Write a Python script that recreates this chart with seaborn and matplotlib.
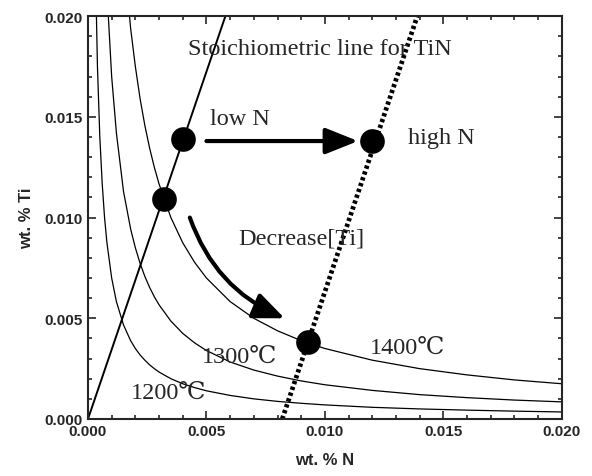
import numpy as np
import pandas as pd
import seaborn as sns
import matplotlib.pyplot as plt

# solubility curves, values (wt.% N vs wt.% Ti)
n_curve = [0.0003, 0.0004, 0.0005, 0.0006, 0.0007, 0.0008, 0.001, 0.0012,
           0.0015, 0.0018, 0.002, 0.0022, 0.0024, 0.0026, 0.0028, 0.003,
           0.0035, 0.004, 0.0045, 0.005, 0.006, 0.007, 0.008, 0.009, 0.010,
           0.012, 0.014, 0.016, 0.018, 0.020]
ti_1200 = [0.0233, 0.0175, 0.014, 0.0117, 0.0100, 0.00875, 0.007, 0.00583,
           0.00467, 0.00389, 0.0035, 0.00318, 0.00292, 0.00269, 0.0025, 0.00233,
           0.002, 0.00175, 0.00156, 0.0014, 0.00117, 0.001, 0.000875, 0.00078, 0.0007,
           0.00058, 0.0005, 0.00044, 0.00039, 0.00035]
ti_1300 = [np.nan, np.nan, np.nan, 0.0283, 0.0243, 0.02125, 0.017, 0.0142,
           0.0113, 0.00944, 0.0085, 0.00773, 0.00708, 0.00654, 0.00607, 0.00567,
           0.00486, 0.00425, 0.00378, 0.0034, 0.00283, 0.00243, 0.00213, 0.00189, 0.0017,
           0.00142, 0.00121, 0.00106, 0.00094, 0.00085]
ti_1400 = [np.nan, np.nan, np.nan, np.nan, np.nan, np.nan, np.nan, np.nan,
           0.0233, 0.0194, 0.0175, 0.0159, 0.01458, 0.01346, 0.0125, 0.01167,
           0.01, 0.00875, 0.00778, 0.007, 0.00583, 0.005, 0.00438, 0.00389, 0.0035,
           0.00292, 0.0025, 0.00219, 0.00194, 0.00175]

# stoichiometric line for TiN and the shifted (dotted) line
n_stoich = [0.0, 0.0058]
ti_stoich = [0.0, 0.020]
n_shift = [0.0082, 0.0139]
ti_shift = [0.0, 0.020]

# marked points
pt_n = [0.0040, 0.0032, 0.0120, 0.0093]
pt_ti = [0.0139, 0.0109, 0.0138, 0.0038]

df = pd.concat([
    pd.DataFrame({'N': n_curve, 'Ti': ti_1200, 'T': '1200'}),
    pd.DataFrame({'N': n_curve, 'Ti': ti_1300, 'T': '1300'}),
    pd.DataFrame({'N': n_curve, 'Ti': ti_1400, 'T': '1400'}),
]).dropna()

sns.set_style('ticks')
plt.rcParams['font.family'] = ['Liberation Sans', 'DejaVu Sans']

fig, ax = plt.subplots(figsize=(5.92, 4.77), dpi=100)
fig.subplots_adjust(left=0.1486, right=0.949, top=0.964, bottom=0.1195)

sns.lineplot(data=df, x='N', y='Ti', units='T', estimator=None,
             color='black', lw=0.9, ax=ax, legend=False)
sns.lineplot(x=n_stoich, y=ti_stoich, color='black', lw=1.4, ax=ax)
sns.lineplot(x=n_shift, y=ti_shift, color='black', lw=3.4,
             linestyle=(0, (0.7, 0.6)), ax=ax)
sns.scatterplot(x=pt_n, y=pt_ti, color='black', s=270, zorder=5, ax=ax,
                edgecolor='black')

# arrows
ax.annotate('', xy=(0.0114, 0.0138), xytext=(0.0050, 0.0138),
            arrowprops=dict(arrowstyle='-|>,head_length=2.0,head_width=0.8',
                            lw=3, color='black', shrinkA=0, shrinkB=0))
ax.annotate('', xy=(0.0083, 0.0050), xytext=(0.0043, 0.0100),
            arrowprops=dict(arrowstyle='-|>,head_length=1.9,head_width=0.8',
                            lw=3, color='black', shrinkA=0, shrinkB=0,
                            connectionstyle='arc3,rad=0.22'))

serif = ['Liberation Serif', 'DejaVu Serif']
fs = 17.5
ax.text(0.0098, 0.0184, 'Stoichiometric line for TiN', family=serif,
        fontsize=fs, ha='center', va='center')
ax.text(0.0064, 0.0149, 'low N', family=serif, fontsize=fs, ha='center', va='center')
ax.text(0.0149, 0.0140, 'high N', family=serif, fontsize=fs, ha='center', va='center')
ax.text(0.0090, 0.0090, 'Decrease[Ti]', family=serif, fontsize=fs, ha='center', va='center')
ax.text(0.0034, 0.00134, '1200℃', family=serif, fontsize=fs, ha='center', va='center')
ax.text(0.0064, 0.00313, '1300℃', family=serif, fontsize=fs, ha='center', va='center')
ax.text(0.0135, 0.00357, '1400℃', family=serif, fontsize=fs, ha='center', va='center')

ax.set_xlim(0, 0.020)
ax.set_ylim(0, 0.020)
ax.set_xticks([0.0, 0.005, 0.010, 0.015, 0.020])
ax.set_yticks([0.0, 0.005, 0.010, 0.015, 0.020])
ax.set_xticks(np.arange(0, 0.0201, 0.001), minor=True)
ax.set_yticks(np.arange(0, 0.0201, 0.001), minor=True)
ax.xaxis.set_major_formatter(plt.FormatStrFormatter('%.3f'))
ax.yaxis.set_major_formatter(plt.FormatStrFormatter('%.3f'))
ax.tick_params(which='both', direction='in', top=True, right=True, width=1.2)
ax.tick_params(which='major', length=6, labelsize=11)
ax.tick_params(which='minor', length=3)
for lab in ax.get_xticklabels() + ax.get_yticklabels():
    lab.set_fontweight('bold')
for sp in ax.spines.values():
    sp.set_linewidth(1.5)

ax.set_xlabel('wt. % N', fontsize=12, fontweight='bold', labelpad=10)
ax.set_ylabel('wt. % Ti', fontsize=12, fontweight='bold', labelpad=8)

fig.savefig('out.png', dpi=100)
